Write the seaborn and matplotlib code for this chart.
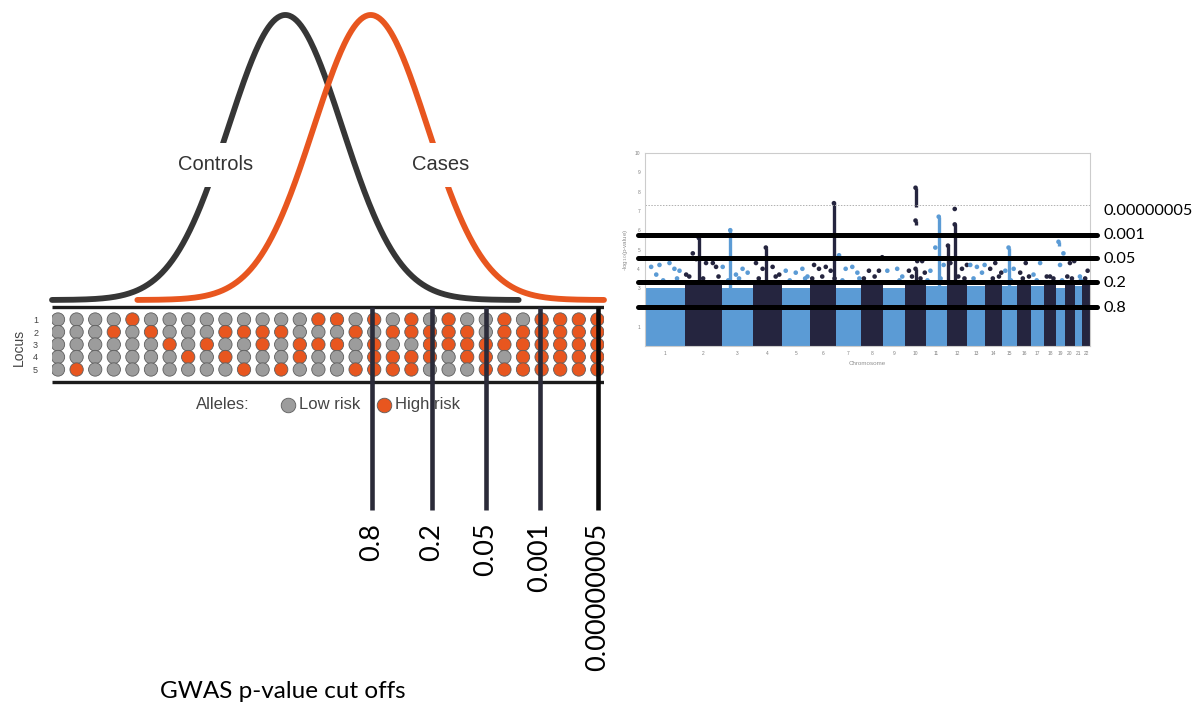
import numpy as np
import pandas as pd
import matplotlib
matplotlib.use("Agg")
import matplotlib.pyplot as plt
import seaborn as sns

# liability distributions, in SD units
GROUPS = ["Controls", "Cases"]
GROUP_MEAN = [0.0, 1.5]
GROUP_SD = [1.0, 1.0]
TAIL = 4.1
LABEL_LEVEL = 0.474  # height (fraction of peak) where the group name sits

# allele table: 5 loci x 30 individuals, 1 = high risk allele
LOCI = ["1", "2", "3", "4", "5"]
LOCUS_1 = [0, 0, 0, 0, 1, 0, 0, 0, 0, 0, 0, 0, 0, 0, 1, 1, 0, 1, 0, 1, 0, 1, 0, 0, 1, 0, 1, 1, 1, 1]
LOCUS_2 = [0, 0, 0, 1, 0, 1, 0, 0, 0, 1, 1, 1, 1, 0, 0, 0, 1, 0, 1, 1, 1, 1, 1, 0, 1, 1, 1, 1, 1, 1]
LOCUS_3 = [0, 0, 0, 0, 0, 0, 1, 0, 1, 0, 0, 1, 0, 1, 1, 1, 0, 1, 0, 0, 1, 1, 1, 1, 1, 1, 1, 1, 1, 1]
LOCUS_4 = [0, 0, 0, 0, 0, 0, 0, 1, 0, 1, 0, 0, 0, 1, 0, 0, 0, 1, 1, 1, 1, 0, 1, 1, 0, 1, 1, 1, 1, 1]
LOCUS_5 = [0, 1, 0, 0, 0, 0, 0, 0, 0, 0, 1, 0, 1, 0, 0, 0, 1, 1, 1, 1, 0, 0, 0, 1, 1, 1, 1, 1, 1, 1]
ALLELE_NAMES = ["Low risk", "High risk"]

# p-value cut offs: where they fall among the individuals and on the Manhattan plot
CUTOFF_LABELS = ["0.8", "0.2", "0.05", "0.001", "0.00000005"]
CUTOFF_COLUMN = [17.88, 21.1, 24.0, 26.9, 30.03]
MANHATTAN_CUT = [2.0, 3.33, 4.58, 5.76, 7.3]
MANHATTAN_LABEL_Y = [1.97, 3.26, 4.5, 5.75, 7.0]

# Manhattan plot
CHROMS = [str(i) for i in range(1, 23)]
CHROM_MB = [249.3, 243.2, 198.0, 191.2, 180.9, 171.1, 159.1, 146.4, 141.2, 135.5, 135.0,
            133.9, 115.2, 107.3, 102.5, 90.4, 81.2, 78.1, 59.1, 63.0, 48.1, 51.3]
BULK_TOP = [3.0, 3.3, 3.0, 3.3, 3.0, 3.3, 3.0, 3.3, 3.0, 3.3, 3.1,
            3.3, 3.1, 3.3, 3.1, 3.3, 3.1, 3.3, 3.0, 3.3, 3.1, 3.3]

# scattered SNPs above the dense block
SNP_CHR = [1, 1, 1, 1, 1, 1, 2, 2, 2, 2, 2, 2, 3, 3, 3, 3, 4, 4, 4, 4, 5, 5, 5, 5,
           6, 6, 6, 6, 7, 7, 7, 7, 8, 8, 8, 9, 9, 9, 10, 10, 10, 10, 11, 11, 11,
           12, 12, 12, 12, 13, 13, 13, 13, 14, 14, 14, 15, 15, 16, 16, 17, 17,
           18, 18, 19, 19, 20, 20, 21, 22]
SNP_MB = [32, 65, 86, 151, 183, 216, 10, 53, 75, 139, 183, 204, 4, 90, 133, 166,
          22, 65, 130, 173, 24, 89, 132, 165, 27, 59, 103, 135, 18, 61, 104, 137,
          53, 118, 139, 26, 90, 123, 25, 79, 111, 128, 29, 61, 115,
          24, 99, 131, 52, 19, 62, 95, 112, 33, 66, 105, 24, 78, 18, 54, 14, 57,
          19, 62, 27, 49, 32, 60, 34, 36]
SNP_LOGP = [4.1, 3.7, 4.2, 4.3, 4.0, 3.9, 3.7, 4.8, 4.5, 4.3, 4.3, 4.1, 4.1, 3.7, 4.0, 3.8,
            4.3, 4.0, 4.1, 3.7, 3.9, 3.8, 4.0, 3.6, 4.2, 4.0, 4.1, 3.9, 4.7, 4.0, 4.1, 3.8,
            3.9, 3.9, 4.6, 3.9, 4.0, 3.6, 3.9, 4.4, 4.4, 3.8, 3.9, 5.1, 4.2,
            4.3, 4.0, 4.2, 7.1, 4.2, 4.1, 3.8, 4.2, 4.0, 4.3, 3.8, 3.9, 4.0, 3.8, 4.3, 3.7, 4.3,
            3.6, 3.5, 4.2, 4.8, 4.3, 4.4, 3.6, 3.9]

# ragged top of the dense block
EDGE_CHR = [1, 1, 1, 2, 2, 2, 3, 3, 3, 4, 4, 5, 5, 5, 6, 6, 6, 7, 7, 7, 8, 8, 9, 9,
            10, 10, 11, 11, 12, 12, 13, 13, 14, 14, 15, 15, 16, 16, 17, 17, 18, 19,
            20, 20, 21, 21, 22]
EDGE_MB = [110, 200, 240, 30, 120, 220, 40, 110, 180, 40, 150, 50, 110, 150, 15, 80, 160,
           40, 85, 150, 20, 90, 60, 105, 45, 100, 10, 95, 75, 115, 40, 80, 50, 90,
           60, 90, 35, 75, 35, 70, 40, 40, 15, 45, 20, 40, 20]
EDGE_LOGP = [3.4, 3.5, 3.3, 3.6, 3.5, 3.6, 3.4, 3.5, 3.3, 3.5, 3.6, 3.4, 3.3, 3.5, 3.5, 3.6,
             3.5, 3.4, 3.3, 3.5, 3.5, 3.6, 3.3, 3.4, 3.6, 3.5, 3.4, 3.5, 3.6, 3.5, 3.5, 3.3,
             3.5, 3.6, 3.4, 3.3, 3.5, 3.6, 3.4, 3.3, 3.6, 3.4, 3.6, 3.5, 3.3, 3.4, 3.5]

PEAK_CHR = [2, 3, 4, 6, 10, 10, 10, 11, 12, 12, 15, 19]
PEAK_MB = [92, 53, 86, 156, 68, 68, 68, 83, 52, 8, 45, 17]
PEAK_LOW = [3.3, 3.0, 3.3, 3.3, 7.2, 6.25, 3.3, 3.0, 3.3, 3.3, 3.0, 5.2]
PEAK_HIGH = [5.6, 6.0, 5.1, 7.4, 8.2, 6.5, 4.0, 6.7, 6.3, 5.2, 5.1, 5.4]

CONTROL_COLOR = "#363636"
CASE_COLOR = "#e8561f"
LOW_COLOR = "#9c9c9c"
LIGHT_BLUE = "#5b9bd5"
NAVY = "#25253f"

sns.set_theme(style="white")
plt.rcParams["font.family"] = ["Liberation Sans", "DejaVu Sans"]
BIG_FONT = ["Lato", "DejaVu Sans"]

W, H = 1200, 709
fig = plt.figure(figsize=(12, 7.09), dpi=100)
fig.patch.set_facecolor("white")


def px_axes(x0, y0, x1, y1):
    ax = fig.add_axes([x0 / W, 1 - y1 / H, (x1 - x0) / W, (y1 - y0) / H])
    ax.set_facecolor("none")
    return ax


# --- distributions ---
ax_c = px_axes(52, 15, 604, 300)
frames = []
for g, m, sd in zip(GROUPS, GROUP_MEAN, GROUP_SD):
    x = np.linspace(m - TAIL * sd, m + TAIL * sd, 400)
    dens = np.exp(-0.5 * ((x - m) / sd) ** 2) / (sd * np.sqrt(2 * np.pi))
    frames.append(pd.DataFrame({"x": x, "density": dens, "group": g}))
curves = pd.concat(frames, ignore_index=True)
sns.lineplot(data=curves, x="x", y="density", hue="group", hue_order=GROUPS,
             palette=[CONTROL_COLOR, CASE_COLOR], lw=4.2, legend=False,
             sort=False, estimator=None, ax=ax_c, clip_on=False)
peak = curves["density"].max()
ax_c.set_xlim(GROUP_MEAN[0] - TAIL, GROUP_MEAN[1] + TAIL)
ax_c.set_ylim(0, peak)
ax_c.axis("off")
offset = np.sqrt(-2 * np.log(LABEL_LEVEL))
for g, m, sd, side in zip(GROUPS, GROUP_MEAN, GROUP_SD, [-1, 1]):
    ax_c.text(m + side * offset * sd, LABEL_LEVEL * peak, g, ha="center", va="center",
              fontsize=14.5, color="#333333", zorder=5,
              bbox=dict(facecolor="white", edgecolor="none", pad=9))

# --- allele grid ---
ax_g = px_axes(52, 300, 604, 520)
rows = [LOCUS_1, LOCUS_2, LOCUS_3, LOCUS_4, LOCUS_5]
grid = pd.DataFrame([
    {"locus": i + 1, "column": j + 1, "allele": ALLELE_NAMES[v]}
    for i, r in enumerate(rows) for j, v in enumerate(r)
])
grid["row"] = grid["locus"] + 0.04
sns.scatterplot(data=grid, x="column", y="row", hue="allele", hue_order=ALLELE_NAMES,
                palette=[LOW_COLOR, CASE_COLOR], s=92, edgecolor="#5e5e5e",
                linewidth=0.6, legend=False, ax=ax_g, zorder=3)
ax_g.set_xlim(1 - 6 / 18.6, 1 + 546 / 18.6)
ax_g.set_ylim(17.08, -0.52)
ax_g.hlines([0, 6], ax_g.get_xlim()[0], ax_g.get_xlim()[1], colors="#1c1c1c", lw=2.4,
            zorder=4)
for i, (c, lab) in enumerate(zip(CUTOFF_COLUMN, CUTOFF_LABELS)):
    col = "#0a0a0a" if i == len(CUTOFF_COLUMN) - 1 else "#2b2b39"
    ax_g.vlines(c, 0, 16.3, colors=col, lw=3.3, zorder=5)
    ax_g.text(c, 17.3, lab, rotation=90, ha="center", va="top", fontsize=19.5,
              family=BIG_FONT, color="black")
ax_g.set_yticks([r + 0.04 for r in range(1, 6)], LOCI)
ax_g.tick_params(axis="y", length=0, pad=10, labelsize=6.5, labelcolor="#444444")
ax_g.set_xticks([])
ax_g.set_xlabel("")
ax_g.set_ylabel("Locus", fontsize=10, color="#444444")
ax_g.yaxis.set_label_coords(-0.047, 0.786)
sns.despine(ax=ax_g, left=True, bottom=True)

# legend
ax_g.text(8.42, 7.84, "Alleles:", ha="left", va="center", fontsize=12, color="#444444")
ax_g.scatter([13.37], [7.84], s=110, color=LOW_COLOR, edgecolor="#5e5e5e", lw=0.6,
             clip_on=False)
ax_g.text(13.96, 7.84, "Low risk", ha="left", va="center", fontsize=12, color="#444444")
ax_g.scatter([18.53], [7.84], s=110, color=CASE_COLOR, edgecolor="#5e5e5e", lw=0.6,
             clip_on=False)
ax_g.text(19.12, 7.84, "High risk", ha="left", va="center", fontsize=12, color="#444444",
          zorder=2)

fig.text(160 / W, 1 - 692 / H, "GWAS p-value cut offs", ha="left", va="center",
         fontsize=17.5, family=BIG_FONT, color="black")

# --- Manhattan plot ---
ax_m = px_axes(645, 153, 1090, 346)
ax_m.set_facecolor("white")
starts = np.concatenate([[0], np.cumsum(CHROM_MB)[:-1]])
chrom_colors = [LIGHT_BLUE if i % 2 == 0 else NAVY for i in range(len(CHROMS))]
ax_m.bar(starts, BULK_TOP, width=CHROM_MB, align="edge", color=chrom_colors, lw=0)

snps = pd.concat([
    pd.DataFrame({"chr": EDGE_CHR, "mb": EDGE_MB, "logp": EDGE_LOGP}),
    pd.DataFrame({"chr": SNP_CHR, "mb": SNP_MB, "logp": SNP_LOGP}),
], ignore_index=True)
snps["pos"] = starts[snps["chr"] - 1] + snps["mb"]
snps["shade"] = np.where(snps["chr"] % 2 == 1, "light", "dark")
sns.scatterplot(data=snps, x="pos", y="logp", hue="shade", hue_order=["light", "dark"],
                palette=[LIGHT_BLUE, NAVY], s=11, linewidth=0, legend=False, ax=ax_m)

peaks = pd.DataFrame({"chr": PEAK_CHR, "mb": PEAK_MB, "lo": PEAK_LOW, "hi": PEAK_HIGH})
peaks["pos"] = starts[peaks["chr"] - 1] + peaks["mb"]
peak_cols = [LIGHT_BLUE if c % 2 == 1 else NAVY for c in peaks["chr"]]
ax_m.vlines(peaks["pos"], peaks["lo"], peaks["hi"], colors=peak_cols, lw=2.4)
ax_m.scatter(peaks["pos"], peaks["hi"], s=11, color=peak_cols, lw=0)

ax_m.axhline(MANHATTAN_CUT[-1], color="#b0b0b0", lw=0.7, ls=(0, (1.5, 1.5)))
for v in MANHATTAN_CUT[:-1]:
    ax_m.axhline(v, xmin=-0.016, xmax=1.016, color="black", lw=3.6, clip_on=False,
                 zorder=6)
for v, lab in zip(MANHATTAN_LABEL_Y, CUTOFF_LABELS):
    ax_m.text(1.031, v, lab, transform=ax_m.get_yaxis_transform(), ha="left",
              va="center", fontsize=11.7, family=BIG_FONT, color="black")

ax_m.set_xlim(-8, sum(CHROM_MB))
ax_m.set_ylim(0, 10)
ax_m.set_yticks(range(1, 11))
ax_m.set_xticks(starts + np.array(CHROM_MB) / 2, CHROMS)
ax_m.tick_params(axis="both", labelsize=3.5, labelcolor="#808080", length=1.5,
                 width=0.5, color="#bbbbbb", pad=2)
ax_m.set_xlabel("Chromosome", fontsize=4.5, color="#909090", labelpad=4)
ax_m.set_ylabel("-log$_{10}$(p-value)", fontsize=4.5, color="#909090", labelpad=3)
for s in ax_m.spines.values():
    s.set_color("#cccccc")
    s.set_linewidth(0.8)

fig.savefig("out.png", dpi=100, facecolor="white")
